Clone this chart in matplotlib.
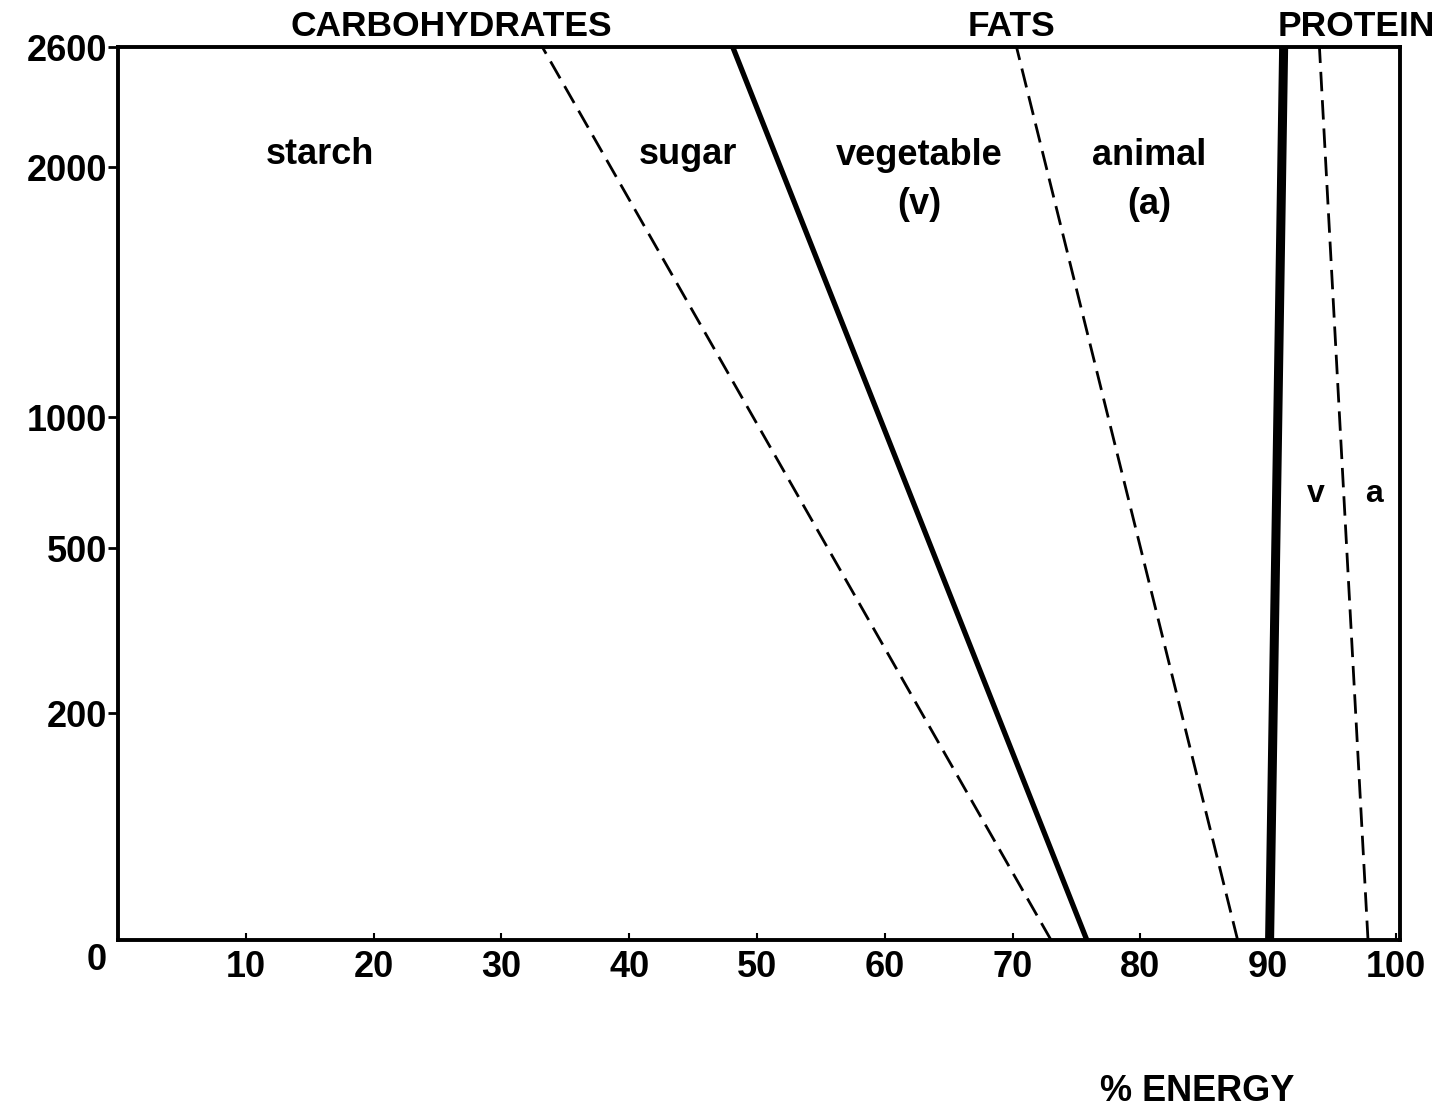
import matplotlib
matplotlib.use("Agg")
import matplotlib.pyplot as plt
import numpy as np

plt.rcParams['font.family'] = ['Liberation Sans', 'DejaVu Sans']
plt.rcParams['font.weight'] = 'bold'

# y axis is drawn on a stretched (non-linear) scale, as in the original
y_ticks = [0, 200, 500, 1000, 2000, 2600]
y_tick_pos = [0, 227, 392, 523, 773, 893]   # relative spacing of the ticks on the original
x_ticks = [10, 20, 30, 40, 50, 60, 70, 80, 90, 100]

# boundary lines: % energy at y=0 and at y=2600
starch_sugar = [73.0, 33.2]
sugar_vegfat = [75.8, 48.1]
vegfat_animalfat = [87.6, 70.3]
fat_protein = [90.1, 91.2]
vegprot_animalprot = [97.8, 94.0]
y_ends = [0, 2600]


def fwd(y):
    return np.interp(y, y_ticks, y_tick_pos)


def inv(p):
    return np.interp(p, y_tick_pos, y_ticks)


fig = plt.figure(figsize=(14.44, 11.2), dpi=100)
ax = fig.add_axes([0.0817, 0.1607, 0.9695 - 0.0817, 0.958 - 0.1607])
ax.set_yscale('function', functions=(fwd, inv))
ax.set_xlim(0, 100.3)
ax.set_ylim(0, 2600)

dash = (7, 3.2)
ax.plot(starch_sugar, y_ends, color='black', lw=2.0, dashes=dash)
ax.plot(sugar_vegfat, y_ends, color='black', lw=3.8)
ax.plot(vegfat_animalfat, y_ends, color='black', lw=2.0, dashes=dash)
ax.plot(fat_protein, y_ends, color='black', lw=6.5, solid_capstyle='butt')
ax.plot(vegprot_animalprot, y_ends, color='black', lw=2.0, dashes=dash)

for s in ax.spines.values():
    s.set_linewidth(2.8)

ax.set_yticks(y_ticks[1:])
ax.set_yticklabels([str(v) for v in y_ticks[1:]])
ax.set_xticks(x_ticks)
ax.set_xticklabels([str(v) for v in x_ticks])
ax.tick_params(axis='y', direction='out', length=7, width=2, pad=1, labelsize=26)
ax.tick_params(axis='x', direction='in', length=5, width=1.5, pad=7, labelsize=26)
ax.minorticks_off()

ax.text(-1.7, -0.003, '0', transform=ax.get_xaxis_transform(), ha='center', va='top',
        fontsize=26, fontweight='bold')

tr = ax.get_xaxis_transform()
ax.text(26.1, 1.004, 'CARBOHYDRATES', transform=tr, ha='center', va='bottom', fontsize=25.5)
ax.text(69.9, 1.004, 'FATS', transform=tr, ha='center', va='bottom', fontsize=25.5)
ax.text(96.9, 1.004, 'PROTEIN', transform=tr, ha='center', va='bottom', fontsize=25.5)

ax.text(15.8, 0.880, 'starch', transform=tr, ha='center', va='center', fontsize=26)
ax.text(44.6, 0.880, 'sugar', transform=tr, ha='center', va='center', fontsize=26)
ax.text(62.7, 0.878, 'vegetable', transform=tr, ha='center', va='center', fontsize=26)
ax.text(62.7, 0.824, '(v)', transform=tr, ha='center', va='center', fontsize=26)
ax.text(80.7, 0.878, 'animal', transform=tr, ha='center', va='center', fontsize=26)
ax.text(80.7, 0.824, '(a)', transform=tr, ha='center', va='center', fontsize=26)
ax.text(93.7, 0.50, 'v', transform=tr, ha='center', va='center', fontsize=23)
ax.text(98.3, 0.50, 'a', transform=tr, ha='center', va='center', fontsize=23)

ax.text(84.4, -0.170, '% ENERGY', transform=tr, ha='center', va='center', fontsize=26)

fig.savefig('out.png', dpi=100)
